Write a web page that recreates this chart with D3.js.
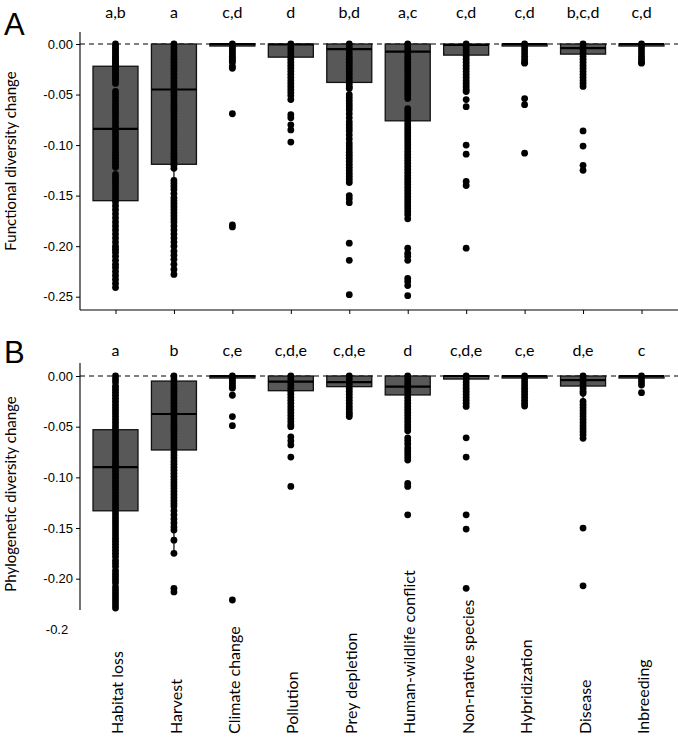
<!DOCTYPE html>
<html><head><meta charset="utf-8">
<script src="https://cdn.jsdelivr.net/npm/d3@7"></script>
<style>body{margin:0;background:#fff}svg{display:block}</style>
</head><body>
<script>
const categories = ["Habitat loss","Harvest","Climate change","Pollution","Prey depletion","Human-wildlife conflict","Non-native species","Hybridization","Disease","Inbreeding"];

const lettersTop = ["a,b","a","c,d","d","b,d","a,c","c,d","c,d","b,c,d","c,d"];
const lettersBot = ["a","b","c,e","c,d,e","c,d,e","d","c,d,e","c,e","d,e","c"];

const ticksTop = [0,-0.05,-0.10,-0.15,-0.20,-0.25];
const ticksBot = [0,-0.05,-0.10,-0.15,-0.20];

// box stats: upper hinge, median, lower hinge, lower whisker
const boxUpperTop = [-0.022,0,0,0,0,0,0,0,0,0];
const boxMedTop   = [-0.084,-0.045,0,-0.0005,-0.005,-0.0076,-0.001,0,-0.004,0];
const boxLowerTop = [-0.155,-0.119,-0.002,-0.013,-0.038,-0.076,-0.011,-0.002,-0.010,-0.002];
const whiskTop    = [-0.241,-0.228,-0.002,-0.032,-0.094,-0.173,-0.027,-0.002,-0.024,-0.002];

const boxUpperBot = [-0.053,-0.005,0,0,0,0,0,0,0,0];
const boxMedBot   = [-0.090,-0.0375,0,-0.0056,-0.006,-0.0105,0,0,-0.004,0];
const boxLowerBot = [-0.133,-0.073,-0.002,-0.0145,-0.0105,-0.0187,-0.003,-0.002,-0.0099,-0.002];
const whiskBot    = [-0.229,-0.175,-0.002,-0.036,-0.026,-0.046,-0.003,-0.002,-0.024,-0.002];

// points, top panel (functional diversity)
const habitatTop = [0,-0.002,-0.004,-0.006,-0.008,-0.010,-0.012,-0.014,-0.016,-0.018,-0.020,-0.022,-0.024,-0.026,-0.028,-0.030,-0.032,-0.034,-0.036,-0.039,-0.047,-0.050,-0.053,-0.056,-0.059,-0.062,-0.065,-0.068,-0.071,-0.074,-0.077,-0.080,-0.083,-0.086,-0.089,-0.092,-0.095,-0.098,-0.101,-0.104,-0.107,-0.110,-0.113,-0.116,-0.119,-0.122,-0.129,-0.132,-0.135,-0.138,-0.141,-0.144,-0.147,-0.150,-0.153,-0.156,-0.160,-0.164,-0.168,-0.172,-0.176,-0.180,-0.184,-0.188,-0.192,-0.196,-0.200,-0.203,-0.206,-0.210,-0.214,-0.218,-0.221,-0.225,-0.229,-0.233,-0.237,-0.241];
const harvestTop = [0,-0.003,-0.006,-0.009,-0.012,-0.015,-0.018,-0.021,-0.024,-0.027,-0.030,-0.033,-0.036,-0.039,-0.042,-0.045,-0.048,-0.051,-0.054,-0.057,-0.060,-0.063,-0.066,-0.069,-0.072,-0.075,-0.078,-0.081,-0.084,-0.087,-0.090,-0.093,-0.096,-0.099,-0.102,-0.105,-0.108,-0.111,-0.114,-0.117,-0.120,-0.123,-0.135,-0.138,-0.141,-0.144,-0.148,-0.152,-0.155,-0.158,-0.161,-0.164,-0.167,-0.170,-0.173,-0.176,-0.180,-0.184,-0.188,-0.192,-0.196,-0.200,-0.205,-0.209,-0.213,-0.218,-0.223,-0.228];
const climateTop = [0,-0.002,-0.004,-0.006,-0.008,-0.010,-0.012,-0.014,-0.016,-0.018,-0.022,-0.024,-0.069,-0.179,-0.181];
const pollutionTop = [0,-0.003,-0.006,-0.009,-0.012,-0.015,-0.018,-0.021,-0.024,-0.027,-0.030,-0.033,-0.036,-0.039,-0.042,-0.045,-0.048,-0.051,-0.055,-0.070,-0.073,-0.080,-0.085,-0.097];
const preyTop = [0,-0.003,-0.006,-0.009,-0.012,-0.015,-0.018,-0.021,-0.024,-0.027,-0.030,-0.033,-0.036,-0.039,-0.042,-0.044,-0.050,-0.053,-0.056,-0.059,-0.062,-0.065,-0.069,-0.073,-0.077,-0.080,-0.083,-0.086,-0.090,-0.094,-0.098,-0.101,-0.104,-0.107,-0.110,-0.113,-0.116,-0.119,-0.122,-0.125,-0.128,-0.131,-0.134,-0.137,-0.150,-0.153,-0.157,-0.197,-0.214,-0.248];
const humanTop = [0,-0.003,-0.006,-0.009,-0.012,-0.015,-0.018,-0.021,-0.024,-0.027,-0.030,-0.033,-0.036,-0.039,-0.042,-0.045,-0.048,-0.051,-0.054,-0.064,-0.067,-0.070,-0.073,-0.076,-0.079,-0.082,-0.085,-0.088,-0.091,-0.094,-0.097,-0.100,-0.103,-0.106,-0.109,-0.112,-0.115,-0.118,-0.121,-0.124,-0.127,-0.130,-0.133,-0.136,-0.139,-0.142,-0.145,-0.148,-0.151,-0.154,-0.157,-0.160,-0.163,-0.166,-0.169,-0.173,-0.202,-0.207,-0.210,-0.214,-0.232,-0.235,-0.239,-0.249];
const nonnativeTop = [0,-0.003,-0.006,-0.009,-0.012,-0.015,-0.018,-0.021,-0.024,-0.027,-0.030,-0.033,-0.036,-0.039,-0.042,-0.045,-0.047,-0.055,-0.062,-0.100,-0.109,-0.136,-0.140,-0.202];
const hybridTop = [0,-0.003,-0.006,-0.009,-0.012,-0.015,-0.018,-0.019,-0.054,-0.060,-0.108];
const diseaseTop = [0,-0.003,-0.006,-0.009,-0.012,-0.015,-0.018,-0.021,-0.024,-0.027,-0.030,-0.033,-0.036,-0.039,-0.042,-0.086,-0.101,-0.120,-0.125];
const inbreedTop = [0,-0.003,-0.006,-0.009,-0.012,-0.015,-0.018,-0.019];

// points, bottom panel (phylogenetic diversity)
const habitatBot = [0,-0.003,-0.006,-0.010,-0.013,-0.016,-0.019,-0.022,-0.025,-0.028,-0.031,-0.034,-0.037,-0.040,-0.043,-0.046,-0.049,-0.052,-0.055,-0.058,-0.061,-0.064,-0.067,-0.070,-0.073,-0.076,-0.079,-0.082,-0.085,-0.088,-0.091,-0.094,-0.097,-0.100,-0.103,-0.106,-0.109,-0.112,-0.115,-0.118,-0.121,-0.124,-0.127,-0.130,-0.133,-0.136,-0.139,-0.142,-0.145,-0.148,-0.151,-0.154,-0.157,-0.160,-0.163,-0.166,-0.169,-0.172,-0.175,-0.178,-0.182,-0.185,-0.188,-0.192,-0.195,-0.198,-0.201,-0.204,-0.208,-0.211,-0.214,-0.217,-0.220,-0.223,-0.226,-0.229];
const harvestBot = [0,-0.003,-0.006,-0.009,-0.012,-0.015,-0.018,-0.021,-0.024,-0.027,-0.030,-0.033,-0.036,-0.039,-0.042,-0.045,-0.048,-0.051,-0.054,-0.057,-0.060,-0.063,-0.066,-0.069,-0.072,-0.075,-0.078,-0.081,-0.084,-0.087,-0.090,-0.093,-0.096,-0.099,-0.102,-0.105,-0.108,-0.111,-0.114,-0.117,-0.120,-0.123,-0.126,-0.129,-0.133,-0.137,-0.141,-0.145,-0.149,-0.152,-0.162,-0.175,-0.2095,-0.213];
const climateBot = [0,-0.002,-0.004,-0.006,-0.008,-0.010,-0.012,-0.019,-0.040,-0.049,-0.221];
const pollutionBot = [0,-0.003,-0.006,-0.009,-0.012,-0.015,-0.018,-0.021,-0.024,-0.027,-0.030,-0.033,-0.036,-0.039,-0.042,-0.045,-0.048,-0.050,-0.060,-0.064,-0.068,-0.080,-0.109];
const preyBot = [0,-0.003,-0.006,-0.009,-0.012,-0.015,-0.018,-0.021,-0.024,-0.027,-0.030,-0.033,-0.036,-0.038,-0.040];
const humanBot = [0,-0.003,-0.006,-0.009,-0.012,-0.015,-0.018,-0.021,-0.024,-0.027,-0.030,-0.033,-0.036,-0.039,-0.042,-0.045,-0.048,-0.051,-0.054,-0.061,-0.064,-0.067,-0.071,-0.074,-0.077,-0.080,-0.083,-0.106,-0.109,-0.137];
const nonnativeBot = [0,-0.003,-0.006,-0.009,-0.012,-0.015,-0.018,-0.021,-0.024,-0.027,-0.030,-0.061,-0.080,-0.137,-0.151,-0.2095];
const hybridBot = [0,-0.003,-0.006,-0.009,-0.012,-0.015,-0.018,-0.021,-0.024,-0.027,-0.0296];
const diseaseBot = [0,-0.003,-0.006,-0.009,-0.012,-0.015,-0.017,-0.025,-0.028,-0.031,-0.034,-0.037,-0.040,-0.043,-0.046,-0.049,-0.052,-0.055,-0.058,-0.0615,-0.150,-0.207];
const inbreedBot = [0,-0.003,-0.006,-0.009,-0.0165];

const pointsTop = [habitatTop,harvestTop,climateTop,pollutionTop,preyTop,humanTop,nonnativeTop,hybridTop,diseaseTop,inbreedTop];
const pointsBot = [habitatBot,harvestBot,climateBot,pollutionBot,preyBot,humanBot,nonnativeBot,hybridBot,diseaseBot,inbreedBot];

const W = 678, H = 737;
const svg = d3.select("body").append("svg").attr("width",W).attr("height",H);

const x = d3.scalePoint().domain(categories).range([115.5, 641.5]);
const boxW = x.step()*0.77;
const LABEL_FONT = "Lato, 'Open Sans', sans-serif";
const TICK_FONT = "'Liberation Sans', Arial, sans-serif";
const fmt = d => (d < 0 ? "-" : "") + d3.format(".2f")(Math.abs(d));

function panel(cfg){
  const y = d3.scaleLinear().domain([0, cfg.tickMin]).range([cfg.y0, cfg.yMin]);
  const g = svg.append("g");
  g.append("line").attr("x1",80).attr("x2",W).attr("y1",y(0)).attr("y2",y(0))
    .attr("stroke","#000").attr("stroke-width",1.1).attr("stroke-dasharray","5,4");
  const ax = g.append("g").attr("transform","translate(80,0)")
    .call(d3.axisLeft(y).tickValues(cfg.ticks).tickSize(4).tickPadding(3).tickFormat(fmt));
  ax.select(".domain").remove();
  ax.selectAll(".tick line").attr("stroke","#000");
  ax.selectAll(".tick text").attr("font-family",TICK_FONT).attr("font-size",13).attr("fill","#000");
  g.append("line").attr("x1",80).attr("x2",80).attr("y1",cfg.axTop).attr("y2",cfg.axBot)
    .attr("stroke","#000").attr("stroke-width",1.1);

  categories.forEach((c,i)=>{
    const cx = x(c);
    g.append("line").attr("x1",cx).attr("x2",cx).attr("y1",y(cfg.lower[i])).attr("y2",y(cfg.whisk[i]))
      .attr("stroke","#000").attr("stroke-width",1.2);
    g.append("rect").attr("x",cx-boxW/2).attr("width",boxW)
      .attr("y",y(cfg.upper[i])).attr("height",Math.max(0.5,y(cfg.lower[i])-y(cfg.upper[i])))
      .attr("fill","#585858").attr("stroke","#111").attr("stroke-width",1.3);
    g.append("line").attr("x1",cx-boxW/2).attr("x2",cx+boxW/2).attr("y1",y(cfg.med[i])).attr("y2",y(cfg.med[i]))
      .attr("stroke","#000").attr("stroke-width",2.2);
    g.selectAll(null).data(cfg.points[i]).enter().append("circle")
      .attr("cx",cx).attr("cy",d=>y(d)).attr("r",3.4).attr("fill","#000");
    g.append("text").attr("x",cx).attr("y",cfg.letterY).attr("text-anchor","middle")
      .attr("font-family",LABEL_FONT).attr("font-size",16).text(cfg.letters[i]);
  });

  g.append("text").attr("transform",`translate(${cfg.titleX},${cfg.titleY}) rotate(-90)`)
    .attr("text-anchor","middle").attr("font-family",LABEL_FONT).attr("font-size",15).text(cfg.title);
  g.append("text").attr("x",4).attr("y",cfg.panelY).attr("font-family",TICK_FONT)
    .attr("font-size",31).text(cfg.panel);
  return {g,y};
}

const panelA = panel({y0:44, yMin:296.7, tickMin:-0.25, ticks:ticksTop, axTop:32, axBot:310,
  upper:boxUpperTop, med:boxMedTop, lower:boxLowerTop, whisk:whiskTop, points:pointsTop,
  letters:lettersTop, letterY:18, title:"Functional diversity change", titleX:16, titleY:161,
  panel:"A", panelY:35});
const xa = svg.append("g").attr("transform","translate(0,310)")
  .call(d3.axisBottom(x).tickSize(4).tickFormat(""));
xa.select(".domain").remove();
xa.selectAll(".tick line").attr("stroke","#000");
svg.append("line").attr("x1",80).attr("x2",W).attr("y1",310).attr("y2",310).attr("stroke","#000").attr("stroke-width",1.1);

const panelB = panel({y0:376, yMin:578.7, tickMin:-0.20, ticks:ticksBot, axTop:363, axBot:610,
  upper:boxUpperBot, med:boxMedBot, lower:boxLowerBot, whisk:whiskBot, points:pointsBot,
  letters:lettersBot, letterY:356, title:"Phylogenetic diversity change", titleX:16, titleY:494,
  panel:"B", panelY:363});

svg.append("text").attr("x",57).attr("y",634).attr("text-anchor","middle")
  .attr("font-family",TICK_FONT).attr("font-size",13).text("-0.2");

categories.forEach(c=>{
  svg.append("text").attr("transform",`translate(${x(c)+2},734) rotate(-90)`)
    .attr("text-anchor","start").attr("dy","0.35em")
    .attr("font-family",LABEL_FONT).attr("font-size",16).text(c);
});
</script>
</body></html>
